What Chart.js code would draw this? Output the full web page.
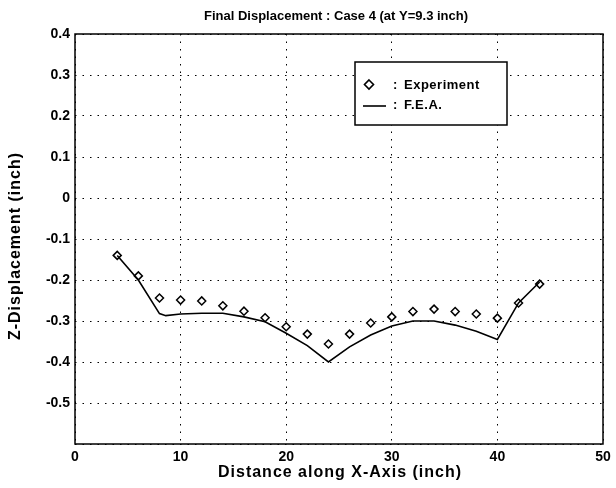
<!DOCTYPE html>
<html>
<head>
<meta charset="UTF-8">
<title>Final Displacement</title>
<script src="https://cdn.jsdelivr.net/npm/chart.js"></script>
<style>
  body { margin: 0; background: #fff; }
  #wrap { width: 616px; height: 488px; }
</style>
</head>
<body>
<div id="wrap"><canvas id="myChart" width="616" height="488"></canvas></div>
<script>
// experiment points (x in inch, z in inch)
const expX = [4, 6, 8, 10, 12, 14, 16, 18, 20, 22, 24, 26, 28, 30, 32, 34, 36, 38, 40, 42, 44];
const expZ = [-0.14, -0.19, -0.244, -0.249, -0.251, -0.263, -0.276, -0.292, -0.314, -0.332, -0.356,
              -0.332, -0.305, -0.29, -0.277, -0.271, -0.277, -0.283, -0.293, -0.256, -0.21];
// F.E.A. curve
const feaX = [4, 6, 8, 8.6, 10, 12, 14, 16, 18, 20, 22, 24, 26, 28, 30, 32, 34, 36, 38, 40, 42, 44];
const feaZ = [-0.14, -0.2, -0.282, -0.287, -0.283, -0.281, -0.281, -0.29, -0.302, -0.33, -0.36, -0.40,
              -0.363, -0.334, -0.312, -0.30, -0.30, -0.31, -0.325, -0.345, -0.256, -0.205];
const yTicks = [0.4, 0.3, 0.2, 0.1, 0, -0.1, -0.2, -0.3, -0.4, -0.5];

const font = "Liberation Sans, Arial, sans-serif";

const framePlugin = {
    id: "frame",
    afterDraw(chart) {
        const {ctx, chartArea: a} = chart;
        ctx.save();
        ctx.strokeStyle = "#000";
        ctx.lineWidth = 1.5;
        ctx.strokeRect(a.left, a.top, a.right - a.left, a.bottom - a.top);
        ctx.fillStyle = "#000";
        ctx.textAlign = "center";
        ctx.textBaseline = "middle";
        // title
        ctx.font = "bold 13px " + font;
        ctx.fillText("Final Displacement : Case 4 (at Y=9.3 inch)", 336, 16);
        // axis titles
        ctx.font = "bold 16px " + font;
        ctx.letterSpacing = "1px";
        ctx.fillText("Distance along X-Axis (inch)", 340, 473);
        ctx.save();
        ctx.translate(16, 246);
        ctx.rotate(-Math.PI / 2);
        ctx.fillText("Z-Displacement (inch)", 0, 0);
        ctx.restore();
        // legend box
        const bx = 355, by = 62, bw = 152, bh = 63;
        ctx.fillStyle = "#fff";
        ctx.fillRect(bx, by, bw, bh);
        ctx.lineWidth = 1.5;
        ctx.strokeRect(bx, by, bw, bh);
        ctx.lineWidth = 1.6;
        ctx.beginPath();
        ctx.moveTo(369, 80); ctx.lineTo(373.5, 84.5); ctx.lineTo(369, 89); ctx.lineTo(364.5, 84.5); ctx.closePath();
        ctx.stroke();
        ctx.beginPath();
        ctx.moveTo(363, 106); ctx.lineTo(386, 106);
        ctx.stroke();
        ctx.fillStyle = "#000";
        ctx.textAlign = "left";
        ctx.font = "bold 13px " + font;
        ctx.letterSpacing = "0.5px";
        ctx.fillText(":", 393, 85);
        ctx.fillText(":", 393, 105);
        ctx.fillText("Experiment", 404, 85);
        ctx.fillText("F.E.A.", 404, 105);
        ctx.restore();
    }
};

new Chart(document.getElementById("myChart"), {
    type: "scatter",
    data: {
        datasets: [
            {
                label: "F.E.A.",
                data: feaX.map((x, i) => ({x: x, y: feaZ[i]})),
                showLine: true,
                borderColor: "#000",
                borderWidth: 1.6,
                pointRadius: 0,
                tension: 0
            },
            {
                label: "Experiment",
                data: expX.map((x, i) => ({x: x, y: expZ[i]})),
                pointStyle: "rectRot",
                pointRadius: 4,
                pointBorderWidth: 1.5,
                pointBackgroundColor: "#fff",
                pointBorderColor: "#000",
                showLine: false
            }
        ]
    },
    plugins: [framePlugin],
    options: {
        responsive: false,
        animation: false,
        layout: {padding: {top: 34, right: 13, left: 0, bottom: 0}},
        plugins: {legend: {display: false}, tooltip: {enabled: false}},
        scales: {
            x: {
                type: "linear",
                min: 0, max: 50,
                ticks: {stepSize: 10, color: "#000", font: {family: font, size: 14, weight: "bold"}, padding: 5, maxRotation: 0},
                grid: {color: "#000", lineWidth: 1, drawTicks: false},
                border: {display: false, dash: [1.5, 6]},
                afterFit(s) { s.height = 44; }
            },
            y: {
                type: "linear",
                min: -0.6, max: 0.4,
                afterBuildTicks(s) { s.ticks = yTicks.concat([-0.6]).map(v => ({value: v})); },
                ticks: {
                    color: "#000", font: {family: font, size: 14, weight: "bold"}, padding: 5,
                    callback: v => (Math.abs(v + 0.6) < 1e-6 ? "" : String(Math.round(v * 10) / 10))
                },
                grid: {color: "#000", lineWidth: 1, drawTicks: false},
                border: {display: false, dash: [1.5, 6]},
                afterFit(s) { s.width = 75; }
            }
        }
    }
});
</script>
</body>
</html>
